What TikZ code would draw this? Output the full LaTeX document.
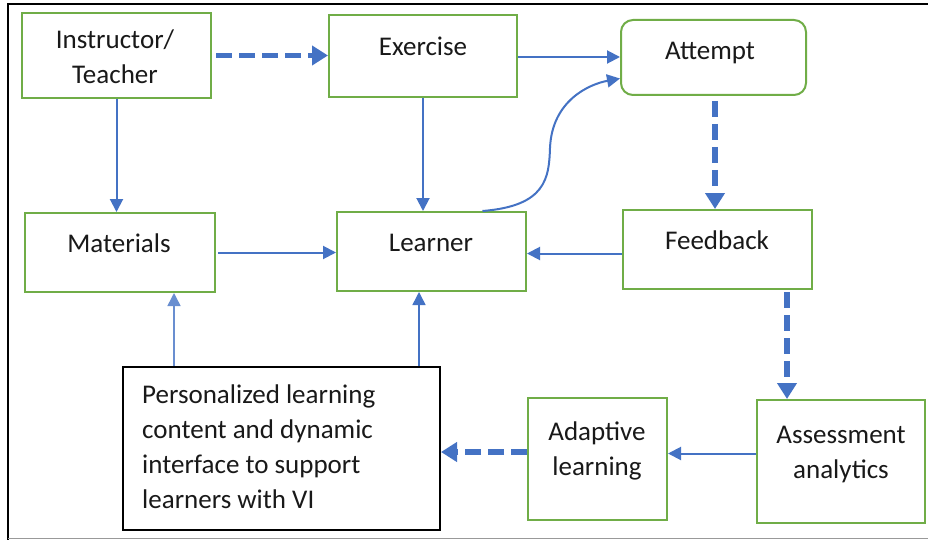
\documentclass[tikz,border=0pt]{standalone}
\usepackage{fontspec}
\setmainfont{Carlito}
\usetikzlibrary{arrows.meta,calc}
\definecolor{bgreen}{HTML}{70AD47}
\definecolor{ablue}{HTML}{4472C4}
\begin{document}
\begin{tikzpicture}[x=1pt,y=-1pt,
  box/.style={draw=bgreen,line width=2pt,rectangle,inner sep=0pt},
  blackbox/.style={draw=black,line width=2pt,rectangle,inner sep=0pt},
  txt/.style={inner sep=0pt,anchor=base,font=\fontsize{27}{32}\selectfont,text=black!90},
  thin/.style={draw=ablue,line width=2pt,-{Triangle[length=13pt,width=13pt]}},
  thick/.style={draw=ablue,line width=5.5pt,dash pattern=on 16pt off 7pt,-{Triangle[length=16pt,width=19pt]}}]
\useasboundingbox (0,0) rectangle (928,540);
\fill[white] (0,0) rectangle (928,540);
% frame
\draw[black,line width=2pt] (8,540) -- (8,4) -- (928,4);
\draw[black!40,line width=1.5pt] (8,538.5) -- (928,538.5);

% boxes
\node[box,minimum width=189,minimum height=85] (instr) at (116.5,55.5) {};
\node[box,minimum width=188,minimum height=82] (ex) at (423,56) {};
\node[box,rounded corners=12pt,minimum width=185,minimum height=75] (att) at (713.5,57.5) {};
\node[box,minimum width=190,minimum height=79] (mat) at (120,252.5) {};
\node[box,minimum width=189,minimum height=79] (learn) at (431.5,251.5) {};
\node[box,minimum width=189,minimum height=79] (fb) at (717.5,249.5) {};
\node[blackbox,minimum width=317,minimum height=163] (pers) at (281.5,448.5) {};
\node[box,minimum width=139,minimum height=122] (adap) at (597.5,459) {};
\node[box,minimum width=168,minimum height=123] (assess) at (841,461.5) {};

% texts
\node[txt] (t1a) at (115,49) {Instructor/};
\node[txt] (t1b) at (115,84) {Teacher};
\node[txt] (t2) at (423,56) {Exercise};
\node[txt] (t3) at (710,60) {Attempt};
\node[txt] (t4) at (119,252) {Materials};
\node[txt] (t5) at (431,251) {Learner};
\node[txt] (t6) at (717,249) {Feedback};
\node[txt,anchor=base west] (t7a) at (142,403) {Personalized learning};
\node[txt,anchor=base west] (t7b) at (142,438) {content and dynamic};
\node[txt,anchor=base west] (t7c) at (142,473) {interface to support};
\node[txt,anchor=base west] (t7d) at (142,508) {learners with VI};
\node[txt] (t8a) at (597,440) {Adaptive};
\node[txt] (t8b) at (597,475) {learning};
\node[txt] (t9a) at (841,443) {Assessment};
\node[txt] (t9b) at (841,478) {analytics};

% connectors
\draw[thick,shorten <=4pt] (instr.east) -- (instr.east -| ex.west);
\draw[thin] (ex.east) ++(0,1) coordinate (c1) -- (c1 -| att.west);
\draw[thin] (ex.south) -- (ex.south |- learn.north);
\draw[thin] (instr.south) -- (instr.south |- mat.north);
\draw[thin,shorten <=2pt] (mat.east) -- (mat.east -| learn.west);
\draw[thin] ($(fb.west)+(0,4)$) coordinate (c2) -- (c2 -| learn.east);
\draw[thin] ($(learn.north)+(51,0)$) .. controls (546,206) and (549,178) .. (550,148)
  .. controls (552,100) and (590,84) .. ($(att.west)+(0,21)$);
\draw[thick,shorten <=5pt] ($(att.south)+(1.5,0)$) coordinate (c3) -- (c3 |- fb.north);
\draw[thick,shorten <=2pt] ($(fb.south)+(69.5,0)$) coordinate (c4) -- (c4 |- assess.north);
\draw[thin] ($(assess.west)+(0,-8)$) coordinate (c5) -- (c5 -| adap.east);
\draw[thick] ($(adap.west)+(0,-7)$) coordinate (c6) -- (c6 -| pers.east);
\draw[thin,draw=ablue!80,line width=1.5pt] ($(pers.north west)+(52,0)$) coordinate (c7) -- (c7 |- mat.south);
\draw[thin,line width=1.5pt] ($(pers.north west)+(297,0)$) coordinate (c8) -- (c8 |- learn.south);
\end{tikzpicture}
\end{document}
